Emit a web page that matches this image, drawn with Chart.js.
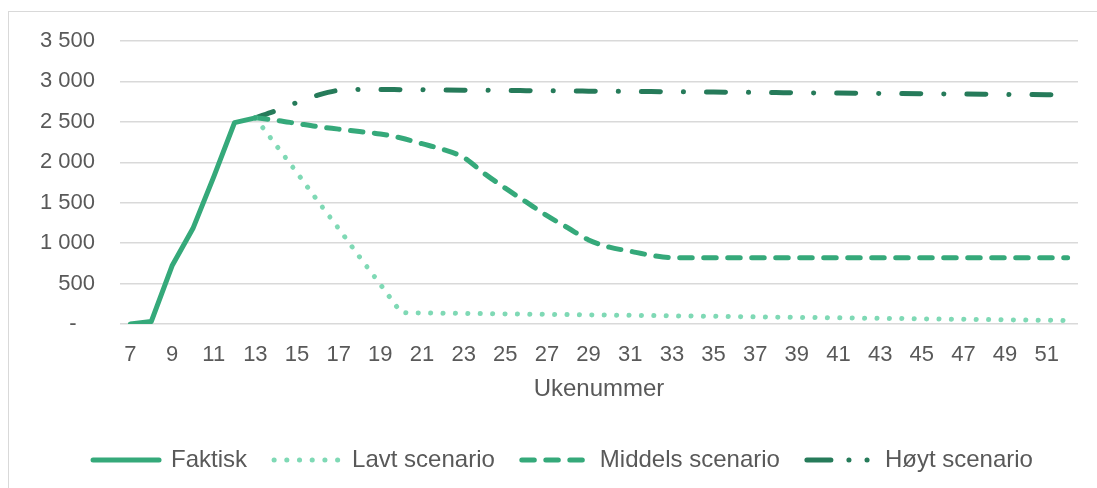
<!DOCTYPE html>
<html lang="no">
<head>
<meta charset="utf-8">
<title>Ukenummer – scenarier</title>
<script src="https://cdn.jsdelivr.net/npm/chart.js@4.4.1/dist/chart.umd.min.js"></script>
<style>
    html, body { margin: 0; padding: 0; background: #ffffff; overflow: hidden; }
    #frame {
        position: absolute; left: 8px; top: 11px;
        width: 2000px; height: 2000px;
        border-left: 1.5px solid #d9d9d9;
        border-top: 1.5px solid #d9d9d9;
    }
    #wrap { position: absolute; left: 0; top: 0; width: 1097px; height: 488px; }
</style>
</head>
<body>
<div id="frame"></div>
<div id="wrap"><canvas id="chart" width="1097" height="488"></canvas></div>
<script>
// ============================================
// Data
// ============================================
const weeks = [7, 8, 9, 10, 11, 12, 13, 14, 15, 16, 17, 18, 19, 20, 21, 22, 23, 24, 25, 26,
               27, 28, 29, 30, 31, 32, 33, 34, 35, 36, 37, 38, 39, 40, 41, 42, 43, 44, 45, 46,
               47, 48, 49, 50, 51, 52];

const faktisk = [0, 30, 720, 1180, 1820, 2490, 2550];

const lavt = [null, null, null, null, null, null,
              2550, 2210, 1870, 1520, 1180, 830, 490, 140, 137, 134, 131, 128, 125, 122,
              119, 116, 113, 110, 107, 104, 101, 98, 95, 92, 88, 85, 82, 79, 76, 73,
              70, 67, 64, 61, 58, 55, 52, 49, 46, 43];

const middels = [null, null, null, null, null, null,
                 2550, 2520, 2480, 2440, 2410, 2380, 2350, 2300, 2230, 2160, 2060, 1860, 1680, 1510,
                 1340, 1190, 1040, 950, 900, 850, 820, 820, 820, 820, 820, 820, 820, 820, 820, 820,
                 820, 820, 820, 820, 820, 820, 820, 820, 820, 820];

const hoyt = [null, null, null, null, null, null,
              2550, 2640, 2740, 2830, 2890, 2900, 2900, 2898, 2896, 2894, 2892, 2890, 2888, 2886,
              2884, 2882, 2880, 2878, 2876, 2874, 2872, 2870, 2868, 2866, 2864, 2862, 2860, 2858, 2856, 2854,
              2852, 2850, 2848, 2846, 2844, 2842, 2840, 2838, 2836, 2834];

const seriesNames = ["Faktisk", "Lavt scenario", "Middels scenario", "Høyt scenario"];
const yTicks = [0, 500, 1000, 1500, 2000, 2500, 3000, 3500];

// ============================================
// Style
// ============================================
const GREEN = "#35a97a";
const LIGHT = "#7fd9b5";
const DARK = "#267b5a";
const GRID = "#d9d9d9";
const TEXT = "#595959";
const FONT = "'Liberation Sans', Arial, sans-serif";
const LINE_W = 5;

const DASH_LAVT = [0.1, 12.3];
const DASH_MIDDELS = [12.5, 11.5];
const DASH_HOYT = [19, 23, 0.1, 23];

// legend samples (the dash-dot one shows dash, dot, dot like the original)
const LEGEND_DASHES = [[], [0.1, 12.6], [12.5, 11.5], [24, 18, 0.1, 18, 0.1, 40]];

function formatThousands(v) {
    if (v === 0) return "-   ";
    if (v < 1000) return String(v);
    return Math.floor(v / 1000) + " " + String(v % 1000).padStart(3, "0");
}

function line(label, data, color, dash, smooth) {
    return {
        label: label,
        data: data,
        borderColor: color,
        backgroundColor: color,
        borderWidth: LINE_W,
        borderDash: dash,
        borderCapStyle: "round",
        borderJoinStyle: "round",
        pointRadius: 0,
        pointHoverRadius: 0,
        fill: false,
        tension: 0,
        cubicInterpolationMode: smooth ? "monotone" : "default",
    };
}

// nudge the legend to where the original has it (centred under the text, lower down)
const legendNudge = {
    id: "legendNudge",
    afterLayout: function (chart) {
        const lg = chart.legend;
        if (!lg) return;
        lg.left += 24; lg.right += 24;
        lg.top += 10; lg.bottom += 10;
    },
};

new Chart(document.getElementById("chart"), {
    type: "line",
    data: {
        labels: weeks,
        datasets: [
            line(seriesNames[0], faktisk, GREEN, [], false),
            line(seriesNames[1], lavt, LIGHT, DASH_LAVT, false),
            line(seriesNames[2], middels, GREEN, DASH_MIDDELS, true),
            line(seriesNames[3], hoyt, DARK, DASH_HOYT, true),
        ],
    },
    plugins: [legendNudge],
    options: {
        responsive: false,
        devicePixelRatio: 1,
        animation: false,
        layout: { padding: { left: 0, right: 19, top: 41, bottom: 16 } },
        plugins: {
            tooltip: { enabled: false },
            legend: {
                position: "bottom",
                labels: {
                    usePointStyle: true,
                    pointStyle: "line",
                    pointStyleWidth: 66,
                    padding: 27,
                    color: TEXT,
                    font: { family: FONT, size: 24 },
                    generateLabels: function (chart) {
                        const items = Chart.defaults.plugins.legend.labels.generateLabels(chart);
                        items.forEach(function (it, i) {
                            const ds = chart.data.datasets[i];
                            it.pointStyle = "line";
                            it.lineWidth = LINE_W;
                            it.lineCap = "round";
                            it.strokeStyle = ds.borderColor;
                            it.lineDash = LEGEND_DASHES[i];
                        });
                        return items;
                    },
                },
            },
        },
        scales: {
            x: {
                offset: true,
                grid: { display: false },
                border: { display: false },
                ticks: {
                    autoSkip: false,
                    maxRotation: 0,
                    padding: 10,
                    color: TEXT,
                    font: { family: FONT, size: 22 },
                    callback: function (v, i) {
                        return weeks[i] % 2 === 1 ? String(weeks[i]) : "";
                    },
                },
                title: {
                    display: true,
                    text: "Ukenummer",
                    color: TEXT,
                    font: { family: FONT, size: 24 },
                    padding: { top: 0, bottom: 7 },
                },
                afterFit: function (scale) { scale.height = 87; },
            },
            y: {
                min: 0,
                max: 3500,
                afterBuildTicks: function (scale) {
                    scale.ticks = yTicks.map(function (v) { return { value: v }; });
                },
                grid: { color: GRID, lineWidth: 1.5, drawTicks: false },
                border: { display: false },
                ticks: {
                    padding: 25,
                    color: TEXT,
                    font: { family: FONT, size: 22 },
                    callback: function (v) { return formatThousands(v); },
                },
                afterFit: function (scale) { scale.width = 120; },
            },
        },
    },
});
</script>
</body>
</html>
